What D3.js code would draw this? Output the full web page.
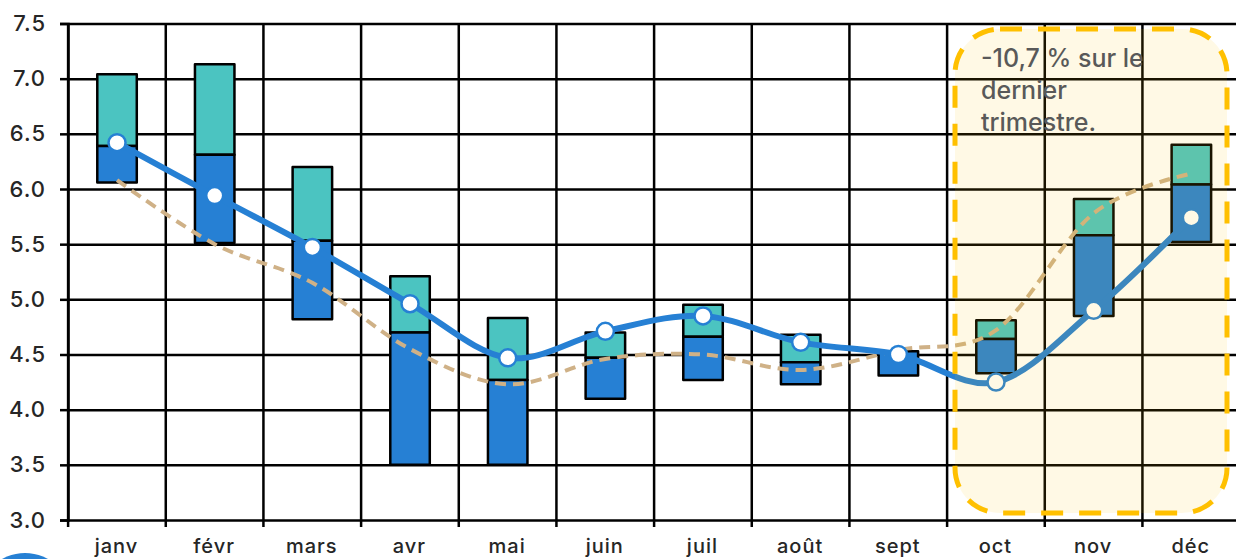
<!DOCTYPE html>
<html><head><meta charset="utf-8">
<script src="https://cdnjs.cloudflare.com/ajax/libs/d3/7.8.5/d3.min.js"></script>
<style>
html,body{margin:0;padding:0;background:#fff;overflow:hidden}
svg{display:block}
text{font-family:Inter,"Open Sans",sans-serif}
</style></head><body><div id="c"></div>
<script>
const months=["janv","févr","mars","avr","mai","juin","juil","août","sept","oct","nov","déc"];
const barLow=[6.06,5.51,4.82,3.5,3.5,4.10,4.27,4.23,4.31,4.33,4.85,5.52];
const barMid=[6.39,6.31,5.53,4.70,4.27,4.47,4.66,4.43,4.53,4.64,5.58,6.04];
const barHigh=[7.04,7.13,6.20,5.21,4.83,4.70,4.95,4.68,4.53,4.81,5.91,6.40];
const blueLine=[6.42,5.94,5.47,4.96,4.47,4.71,4.85,4.61,4.50,4.25,4.90,5.74];
const tanLine=[6.08,5.50,5.15,4.55,4.23,4.46,4.50,4.36,4.54,4.72,5.78,6.14];
const yTicks=[3,3.5,4,4.5,5,5.5,6,6.5,7,7.5];
const noteLines=["-10,7 % sur le","dernier","trimestre."];

const W=1236,H=559;
const x=d3.scaleBand().domain(months).range([67.6,1239.6]);
const y=d3.scaleLinear().domain([3,7.5]).range([520,23.5]);
const svg=d3.select("#c").append("svg").attr("width",W).attr("height",H);

// partial circle under the chart
svg.append("circle").attr("cx",25).attr("cy",600).attr("r",47).attr("fill","#2680D4");

// horizontal grid + left ticks
const gy=svg.append("g").attr("transform","translate(68,0)")
 .call(d3.axisLeft(y).tickValues(yTicks).tickFormat(d3.format(".1f")).tickSizeOuter(0).tickSize(8).tickPadding(14));
gy.select(".domain").attr("stroke","#000").attr("stroke-width",2.5);
gy.selectAll(".tick line").attr("stroke","#000").attr("stroke-width",2.5);
gy.selectAll("text").attr("font-size",22).attr("font-weight",500).attr("fill","#262626").attr("letter-spacing",1).attr("dy","0.32em");
const gg=svg.append("g").attr("transform","translate(68,0)")
 .call(d3.axisRight(y).tickValues(yTicks).tickFormat("").tickSizeOuter(0).tickSize(1172));
gg.select(".domain").remove();
gg.selectAll(".tick line").attr("stroke","#000").attr("stroke-width",2.5);

// vertical grid at category boundaries
const bounds=d3.range(13).map(i=>x.range()[0]+i*x.step());
const bx=d3.scaleIdentity().domain([0,W]);
const gv=svg.append("g").attr("transform","translate(0,527)")
 .call(d3.axisTop(bx).tickValues(bounds).tickFormat("").tickSizeOuter(0).tickSize(503.5));
gv.select(".domain").remove();
gv.selectAll(".tick line").attr("stroke","#000").attr("stroke-width",2.5);

// labels
const gx=svg.append("g").attr("transform","translate(0,520)")
 .call(d3.axisBottom(x).tickSize(0).tickPadding(19));
gx.select(".domain").remove();
gx.selectAll("text").attr("font-size",20).attr("font-weight",500).attr("fill","#262626").attr("letter-spacing",1);

// bars
const barW=39.5;
const cx=m=>x(m)+x.bandwidth()/2+0.6;
const bars=svg.append("g").attr("stroke","#000").attr("stroke-width",2.5).attr("stroke-linejoin","round");
bars.selectAll(".h").data(months).join("rect").attr("fill","#4BC4C1")
 .attr("x",m=>cx(m)-barW/2).attr("width",barW)
 .attr("y",(m,i)=>y(barHigh[i])).attr("height",(m,i)=>y(barMid[i])-y(barHigh[i]));
bars.selectAll(".l").data(months).join("rect").attr("fill","#2680D4")
 .attr("x",m=>cx(m)-barW/2).attr("width",barW)
 .attr("y",(m,i)=>y(barMid[i])).attr("height",(m,i)=>y(barLow[i])-y(barMid[i]));

// lines
const line=d3.line().x((d,i)=>cx(months[i])).y(d=>y(d)).curve(d3.curveCatmullRom.alpha(0));
svg.append("path").attr("d",line(tanLine)).attr("fill","none").attr("stroke","#CFB187").attr("stroke-width",4).attr("stroke-dasharray","11 7");
svg.append("path").attr("d",line(blueLine)).attr("fill","none").attr("stroke","#2680D4").attr("stroke-width",6);
svg.append("g").selectAll("circle").data(blueLine).join("circle")
 .attr("cx",(d,i)=>cx(months[i])).attr("cy",d=>y(d)).attr("r",8.5)
 .attr("fill","#fff").attr("stroke","#2680D4").attr("stroke-width",2.5);

// highlight
svg.append("rect").attr("x",955).attr("y",29).attr("width",272).attr("height",484).attr("rx",45)
 .attr("fill","#FFC000").attr("fill-opacity",0.1)
 .attr("stroke","#FFC000").attr("stroke-width",5).attr("stroke-dasharray","22 16");
svg.append("text").attr("font-size",25).attr("font-weight",500).attr("fill","#595959")
 .selectAll("tspan").data(noteLines).join("tspan").attr("x",981).attr("y",(d,i)=>67+i*32).text(d=>d);
</script></body></html>
